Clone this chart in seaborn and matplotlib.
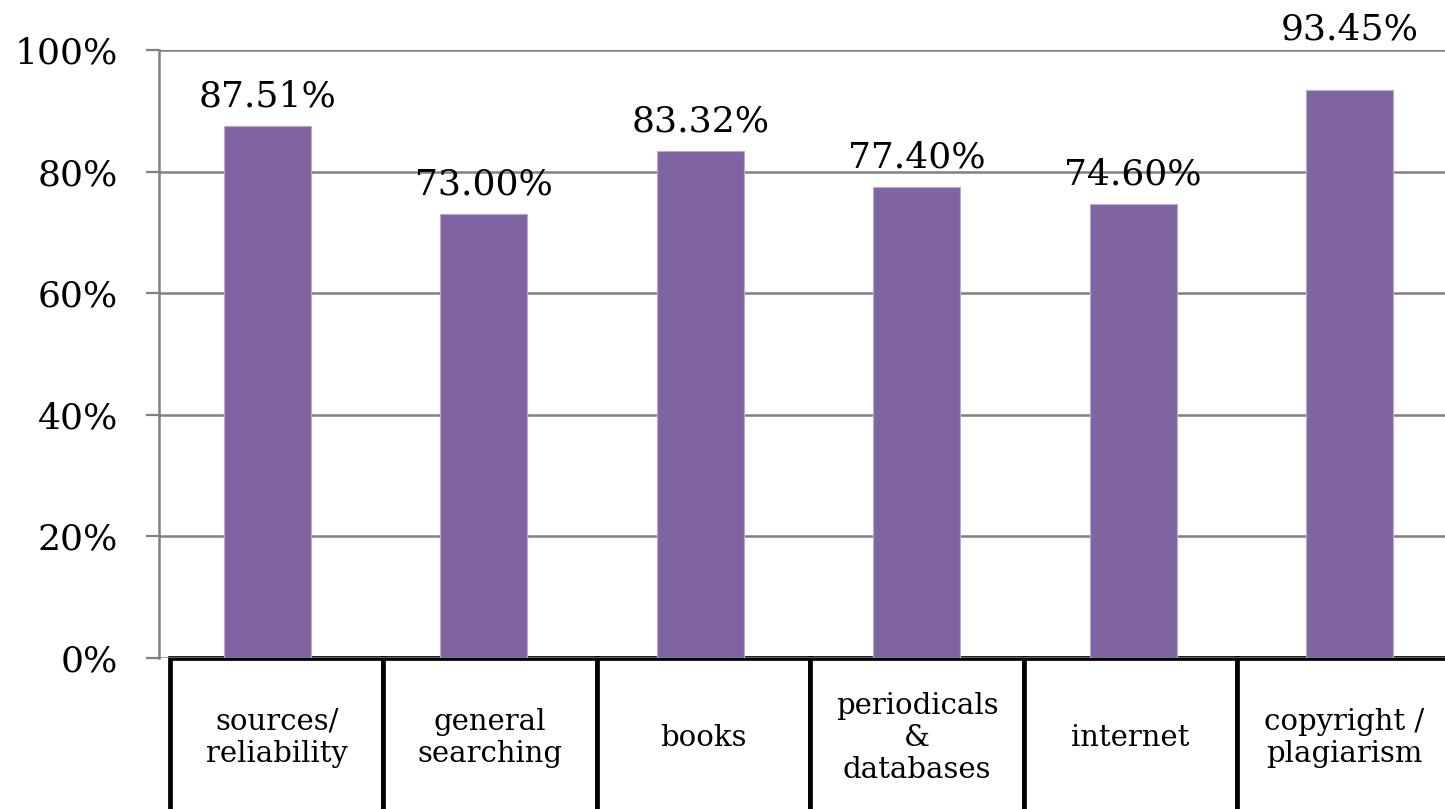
import pandas as pd
import seaborn as sns
import matplotlib.pyplot as plt

# survey topics and share of respondents
categories = ['sources/\nreliability', 'general\nsearching', 'books',
              'periodicals\n&\ndatabases', 'internet', 'copyright /\nplagiarism']
values = [87.51, 73.00, 83.32, 77.40, 74.60, 93.45]
yticks = [0, 20, 40, 60, 80, 100]

df = pd.DataFrame({'topic': categories, 'pct': values})

sns.set_style('white')
plt.rcParams['font.family'] = ['DejaVu Serif']
plt.rcParams['text.color'] = 'black'
plt.rcParams['ytick.color'] = 'black'

fig = plt.figure(figsize=(14.45, 8.09), dpi=100)
ax = fig.add_axes([0.110, 0.1867, 0.899, 0.7515])

sns.barplot(data=df, x='topic', y='pct', color='#8064A2', width=0.4,
            saturation=1, edgecolor='#b9a8d4', linewidth=0.8, ax=ax)

ax.set_ylim(0, 100)
ax.set_xlim(-0.5, len(categories) - 0.5)
ax.set_yticks(yticks)
ax.set_yticklabels([f'{t}%' for t in yticks], fontsize=26, color='black')
ax.tick_params(axis='y', left=True, length=9.5, width=1.6, color='#808080', pad=20)
ax.tick_params(axis='x', bottom=False, labelbottom=False)
ax.set_xlabel('')
ax.set_ylabel('')

ax.grid(axis='y', color='#808080', linewidth=1.8)
ax.set_axisbelow(True)
for s in ['top', 'right', 'bottom']:
    ax.spines[s].set_visible(False)
ax.spines['left'].set_color('#808080')
ax.spines['left'].set_linewidth(1.8)

# value labels; the tallest one sits higher, above the 100% line
low = [f'{v:.2f}%' if v < 90 else '' for v in values]
high = [f'{v:.2f}%' if v >= 90 else '' for v in values]
ax.bar_label(ax.containers[0], labels=low, padding=9, fontsize=26,
             color='black', clip_on=False)
ax.bar_label(ax.containers[0], labels=high, padding=31, fontsize=26,
             color='black', clip_on=False)

# category table under the axis
tbl = ax.table(cellText=[categories], cellLoc='center',
               bbox=[0.0085, -0.263, 0.986, 0.263])
tbl.auto_set_font_size(False)
tbl.set_fontsize(21)
for cell in tbl.get_celld().values():
    cell.set_linewidth(3.4)
    cell.set_edgecolor('black')
    cell.get_text().set_linespacing(1.2)
    cell.get_text().set_color('black')

fig.savefig('out.png', dpi=100)
